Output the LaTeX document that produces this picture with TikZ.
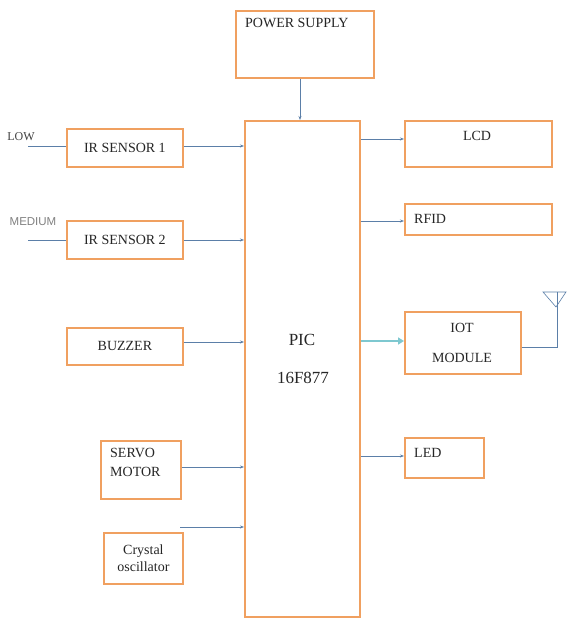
\documentclass[tikz,border=0pt]{standalone}
\usepackage{fontspec}
\setmainfont{Liberation Serif}
\newfontfamily\lsans{Liberation Sans}
\usetikzlibrary{arrows.meta}
\definecolor{boxor}{HTML}{F0A060}
\definecolor{lineblue}{HTML}{5B7FA8}
\definecolor{tealar}{HTML}{7EC8D0}
\begin{document}
\begin{tikzpicture}[x=1pt,y=-1pt,
  blk/.style={draw=boxor,line width=1.8pt,fill=white},
  conn/.style={draw=lineblue,line width=0.6pt,-{Stealth[length=4pt,width=3pt]}},
  plain/.style={draw=lineblue,line width=0.6pt},
  lbl/.style={font=\fontsize{14}{18}\selectfont,text=black!85,inner sep=0pt}]
\useasboundingbox (0,0) rectangle (566,618);
% boxes
\node[blk,minimum width=138pt,minimum height=67pt,anchor=north west] (ps) at (235,10) {};
\node[lbl,anchor=north west] (pst) at (245,18) {POWER SUPPLY};
\node[blk,minimum width=115pt,minimum height=496pt,anchor=north west] (pic) at (244,120) {};
\node[lbl,font=\fontsize{17}{20}\selectfont] (pict) at (302,340) {PIC};
\node[lbl,font=\fontsize{17}{20}\selectfont] (picn) at (303,378) {16F877};
\node[blk,minimum width=116pt,minimum height=38pt,anchor=north west] (ir1) at (66,128) {};
\node[lbl] at (ir1.center) {IR SENSOR 1};
\node[blk,minimum width=116pt,minimum height=38pt,anchor=north west] (ir2) at (66,220) {};
\node[lbl] at (ir2.center) {IR SENSOR 2};
\node[blk,minimum width=116pt,minimum height=37pt,anchor=north west] (bz) at (66,327) {};
\node[lbl] at (bz.center) {BUZZER};
\node[blk,minimum width=80pt,minimum height=58pt,anchor=north west] (sv) at (100,440) {};
\node[lbl,align=left,anchor=north west,font=\fontsize{14}{19}\selectfont] (svt) at (110,448) {SERVO\\MOTOR};
\node[blk,minimum width=79pt,minimum height=51pt,anchor=north west] (xt) at (103,532) {};
\node[lbl,align=center,font=\fontsize{14}{17}\selectfont] at (xt.center) {Crystal\\oscillator};
\node[blk,minimum width=147pt,minimum height=46pt,anchor=north west] (lcd) at (404,120) {};
\node[lbl] at (477,136) {LCD};
\node[blk,minimum width=147pt,minimum height=31pt,anchor=north west] (rf) at (404,203) {};
\node[lbl,anchor=west] at (414,219) {RFID};
\node[blk,minimum width=116pt,minimum height=62pt,anchor=north west] (iot) at (404,311) {};
\node[lbl] at (462,328) {IOT};
\node[lbl] at (462,358) {MODULE};
\node[blk,minimum width=79pt,minimum height=40pt,anchor=north west] (led) at (404,437) {};
\node[lbl,anchor=west] at (414,453) {LED};
% side labels
\node[inner sep=0pt,font=\fontsize{12}{14}\selectfont,text=black!75] (low) at (21,137) {LOW};
\node[inner sep=0pt,font=\lsans\fontsize{11.5}{13}\selectfont,text=black!50] (med) at (33,222) {MEDIUM};
\coordinate (lowin) at (28,146);
\coordinate (medin) at (28,240);
\draw[plain] (lowin) -- (lowin -| ir1.west);
\draw[plain] (medin) -- (medin -| ir2.west);
% connectors into PIC
\draw[conn] (ir1.east |- 0,146) -- (pic.west |- 0,146);
\draw[conn] (ir2.east |- 0,240) -- (pic.west |- 0,240);
\draw[conn] (bz.east |- 0,342) -- (pic.west |- 0,342);
\draw[conn] (sv.east |- 0,467) -- (pic.west |- 0,467);
\coordinate (xtin) at (180,527);
\draw[conn] (xtin) -- (pic.west |- xtin);
\draw[conn] (ps.south -| 300,0) -- (pic.north -| 300,0);
% connectors out of PIC
\draw[conn] (pic.east |- 0,139) -- (lcd.west |- 0,139);
\draw[conn] (pic.east |- 0,221) -- (rf.west |- 0,221);
\draw[draw=tealar,line width=2.2pt,-{Triangle[length=6pt,width=7pt]}] (pic.east |- 0,341) -- (iot.west |- 0,341);
\draw[conn] (pic.east |- 0,456) -- (led.west |- 0,456);
% antenna
\coordinate (ant) at (557,292);
\draw[plain] (iot.east |- 0,347) -- (557,347) -- (ant);
\draw[plain] (543,292) -- (566,292) -- (556,307) -- cycle;
\end{tikzpicture}
\end{document}
